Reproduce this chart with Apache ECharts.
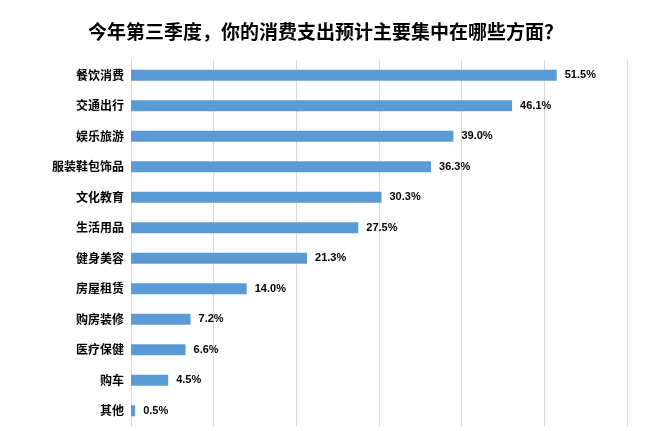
<!DOCTYPE html>
<html>
<head>
<meta charset="utf-8">
<script src="https://cdn.jsdelivr.net/npm/echarts@6/dist/echarts.min.js"></script>
<style>
    html, body { margin: 0; padding: 0; background: #fff; }
    #chart { width: 649px; height: 431px; }
</style>
</head>
<body>
<div id="chart"></div>
<script>
var titleText = '今年第三季度，你的消费支出预计主要集中在哪些方面？';
var categories = ['餐饮消费', '交通出行', '娱乐旅游', '服装鞋包饰品', '文化教育', '生活用品', '健身美容', '房屋租赁', '购房装修', '医疗保健', '购车', '其他'];
var values = [51.5, 46.1, 39.0, 36.3, 30.3, 27.5, 21.3, 14.0, 7.2, 6.6, 4.5, 0.5];
var xMax = 60;
var xStep = 10;

var cjk = '"Noto Sans CJK SC", "Microsoft YaHei", sans-serif';

var myChart = echarts.init(document.getElementById('chart'));
var option = {
    backgroundColor: '#fff',
    animation: false,
    title: {
        text: titleText,
        left: 83,
        top: 17,
        textStyle: {
            color: '#000',
            fontSize: 19,
            fontWeight: 'bold',
            fontFamily: cjk
        }
    },
    grid: {
        left: 131,
        right: 22,
        top: 60,
        height: 366
    },
    xAxis: {
        type: 'value',
        min: 0,
        max: xMax,
        interval: xStep,
        axisLabel: { show: false },
        axisLine: { show: false },
        axisTick: { show: false },
        splitLine: {
            show: true,
            lineStyle: { color: '#d9d9d9', width: 1 }
        }
    },
    yAxis: {
        type: 'category',
        inverse: true,
        data: categories,
        axisTick: { show: false },
        axisLine: {
            show: true,
            lineStyle: { color: '#d9d9d9', width: 1 }
        },
        axisLabel: {
            margin: 7,
            color: '#000',
            fontSize: 12,
            fontWeight: 'bold',
            fontFamily: cjk
        }
    },
    series: [{
        type: 'bar',
        data: values,
        barWidth: 11,
        itemStyle: { color: '#5b9bd5' },
        label: {
            show: true,
            position: 'right',
            distance: 8,
            color: '#000',
            fontSize: 11,
            fontWeight: 'bold',
            fontFamily: '"Liberation Sans Narrow", "Liberation Sans", Arial, sans-serif',
            formatter: function (p) {
                return p.value.toFixed(1) + '%';
            }
        }
    }]
};
myChart.setOption(option);
</script>
</body>
</html>
